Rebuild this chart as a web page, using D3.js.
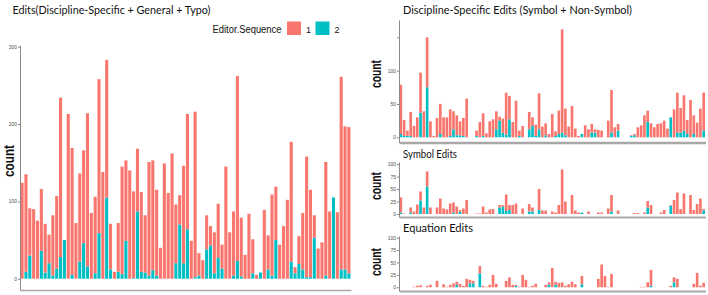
<!DOCTYPE html>
<html>
<head>
<meta charset="utf-8">
<script src="https://cdn.jsdelivr.net/npm/d3@7"></script>
<style>
body { margin: 0; background: #fff; }
svg text { font-family: "Liberation Sans", Arial, sans-serif; }
.title { font-family: Lato, "Open Sans", sans-serif; font-size: 11.5px; fill: #111; }
.count { font-size: 14px; font-weight: bold; fill: #111; }
.legend { font-size: 10px; fill: #111; }
.yAxis text { font-size: 5px; fill: #4d4d4d; }
.yAxis path, .yAxis line { stroke: #8a8a8a; }
.xAxis path { stroke: #a8a8a8; }
</style>
</head>
<body>
<div class="container"></div>
<script>
// left chart: all edits, editor sequence 1 (salmon) and 2 (teal), 86 documents
var allSeq1 = [124,126,61,90,75,80,63,37,78,94, 206,0,213,164,72,114,120,198,85,99,
  199,138,178,59,9,63,139,104,140,112, 81,103,74,147,142,111,40,149,111,162,
  76,38,126,149,49,214,29,24,44,25, 53,70,31,145,60,83,239,76,31,84,
  44,5,0,89,44,105,69,44,68,102, 155,8,36,73,156,113,29,39,47,147,
  87,0,86,249,185,189];
var allSeq2 = [0,9,30,0,0,36,8,20,4,13, 28,50,0,5,0,22,46,16,0,7,
  59,0,105,12,0,9,6,49,0,1, 87,9,8,4,11,4,0,0,0,0,
  20,70,20,64,0,2,4,0,38,43, 7,27,13,0,0,4,23,3,0,0,
  7,0,8,0,12,4,50,0,0,0, 22,7,19,12,2,2,53,0,0,4,
  0,105,0,12,12,7];

// right charts, 93 documents
var discSeq1 = [74,24,8,36,17,30,60,39,75,24, 2,29,45,30,30,40,27,30,21,27,
  58,0,0,8,23,34,6,24,27,27, 6,21,63,35,23,55,8,17,0,26,
  13,17,54,16,18,5,35,7,35,155, 40,16,47,13,2,0,18,12,13,5,
  11,10,0,25,64,15,10,0,0,0, 1,2,15,18,33,17,21,15,20,21,
  25,13,0,42,60,37,53,21,56,28, 22,43,57];
var discSeq2 = [5,2,2,2,0,0,37,0,75,0, 0,0,5,0,0,2,12,3,3,2,
  0,0,0,2,0,2,0,0,0,12, 25,7,4,27,0,0,2,0,0,12,
  17,2,12,0,3,0,0,2,5,7, 3,0,0,0,0,5,0,0,7,7,
  0,0,0,0,7,0,10,0,0,0, 2,3,0,0,0,23,0,0,0,0,
  0,0,30,0,7,7,10,5,0,5, 0,0,10];

var symSeq1 = [30,1,0,10,5,19,18,13,30,13, 0,13,31,11,9,21,20,15,3,11,
  28,0,0,1,1,15,3,9,10,0, 5,3,33,10,18,21,0,11,0,15,
  8,0,42,7,7,0,5,3,18,89, 25,0,38,7,3,0,0,5,0,0,
  3,3,0,11,33,0,7,0,0,0, 0,2,2,0,3,13,18,0,0,3,
  8,0,1,28,43,10,41,0,38,8, 20,31,3];
var symSeq2 = [3,0,0,3,0,0,27,0,55,0, 0,0,0,0,0,0,3,0,5,0,
  0,0,0,0,0,0,0,0,0,0, 13,15,6,8,0,0,0,0,0,5,
  5,0,8,0,0,0,0,0,0,0, 0,0,0,0,0,3,0,0,0,0,
  0,0,0,0,5,0,0,0,0,0, 0,0,0,0,0,13,0,0,0,0,
  0,0,17,0,0,0,0,0,0,0, 0,0,7];

var eqSeq1 = [0,0,0,0,1,3,4,0,3,5, 0,13,0,6,1,5,8,6,7,3,
  17,7,5,0,15,3,1,5,25,7, 0,0,13,20,5,2,1,25,15,1,
  3,7,0,0,5,5,39,6,9,10, 3,6,11,6,0,17,0,0,0,0,
  17,46,23,1,27,0,0,0,0,0, 0,0,0,1,1,10,32,0,0,0,
  0,0,3,10,17,0,0,0,0,7, 29,3,9];
var eqSeq2 = [0,0,0,0,0,0,0,0,0,0, 0,0,0,0,0,0,0,5,0,0,
  0,8,8,0,28,0,0,0,0,0, 0,0,0,0,0,3,0,0,0,0,
  0,0,0,0,0,5,0,5,0,0, 0,0,0,0,0,6,0,0,0,0,
  0,0,0,0,0,0,0,0,0,0, 0,0,0,0,0,0,3,0,0,0,
  0,0,0,10,0,0,0,0,0,0, 0,0,0];

var legendKeys = ['1', '2'];

const WIDTH = 708;
const HEIGHT = 295;
const COLORS = {s1: '#F8766D', s2: '#00BFC4'};

var svg;

var translate = function(x, y){
	return "translate("+x+","+y+")";
};

var drawPanel = function(p){
	var idx = d3.range(p.seq1.length);

	var xScale = d3.scaleBand()
		.domain(idx)
		.range([p.left, p.right])
		.paddingInner(0.2)
		.paddingOuter(0.15);

	var yScale = d3.scaleLinear()
		.domain(p.domain)
		.range([p.bottom, p.top]);

	var rows = idx.map(function(i){ return {i: i, s1: p.seq1[i], s2: p.seq2[i]}; });
	var layers = d3.stack().keys(['s2', 's1'])(rows);

	svg.append('g').selectAll('g').data(layers)
		.enter().append('g')
		.attr('fill', function(d){ return COLORS[d.key]; })
		.selectAll('rect')
		.data(function(d){ return d.filter(function(v){ return v[1] > v[0]; }); })
		.enter().append('rect')
		.attr('x', function(v){ return xScale(v.data.i); })
		.attr('width', xScale.bandwidth())
		.attr('y', function(v){ return yScale(v[1]); })
		.attr('height', function(v){ return yScale(v[0]) - yScale(v[1]); });

	var yAxis = d3.axisLeft(yScale)
		.tickValues(p.ticks)
		.tickSize(2)
		.tickSizeOuter(0)
		.tickPadding(1)
		.tickFormat(function(d){ return p.labels.indexOf(d) >= 0 ? d : ''; });

	svg.append('g')
		.attr('transform', translate(p.left, 0))
		.classed('yAxis', true)
		.call(yAxis);

	svg.append('g')
		.attr('transform', translate(0, p.bottom))
		.classed('xAxis', true)
		.call(d3.axisBottom(xScale).tickValues([]).tickSizeOuter(0))
		.select('path').attr('stroke-width', p.xWidth);

	svg.append('text')
		.classed('count', true)
		.attr('transform', translate(p.countX, p.countY) + ' rotate(-90)')
		.attr('text-anchor', 'middle')
		.attr('textLength', p.countLen)
		.attr('lengthAdjust', 'spacingAndGlyphs')
		.text('count');

	svg.append('text')
		.classed('title', true)
		.attr('x', p.titleX)
		.attr('y', p.titleY)
		.attr('textLength', p.titleLen)
		.attr('lengthAdjust', 'spacingAndGlyphs')
		.text(p.title);
};

var drawLegend = function(){
	var g = svg.append('g');
	g.append('text').classed('legend', true)
		.attr('x', 212.5).attr('y', 32.5)
		.attr('textLength', 69).attr('lengthAdjust', 'spacingAndGlyphs')
		.text('Editor.Sequence');
	var item = g.selectAll('g.item').data(legendKeys)
		.enter().append('g')
		.attr('transform', function(d, i){ return translate(287 + i * 28.5, 21.5); });
	item.append('rect')
		.attr('width', 14).attr('height', 13.5)
		.attr('fill', function(d){ return d === '1' ? COLORS.s1 : COLORS.s2; });
	item.append('text').classed('legend', true)
		.attr('x', 19).attr('y', 11)
		.style('font-size', '9px')
		.text(function(d){ return d; });
};

window.onload = function(){
	svg = d3.select('.container').append('svg')
		.attr('width', WIDTH)
		.attr('height', HEIGHT);

	drawPanel({seq1: allSeq1, seq2: allSeq2, left: 20, right: 351, top: 45, bottom: 290,
		domain: [-14.6, 302.2], ticks: [0, 100, 200, 300], labels: [0, 100, 200, 300], xWidth: 1.5,
		countX: 13.5, countY: 161, countLen: 32,
		title: 'Edits(Discipline-Specific + General + Typo)', titleX: 12.5, titleY: 13.5, titleLen: 198});

	drawPanel({seq1: discSeq1, seq2: discSeq2, left: 399, right: 705.5, top: 20, bottom: 142.5,
		domain: [-7.8, 176], ticks: [0, 50, 100, 150], labels: [0, 50, 100], xWidth: 2.5,
		countX: 380.5, countY: 74, countLen: 28,
		title: 'Discipline-Specific Edits (Symbol + Non-Symbol)', titleX: 403, titleY: 13.5, titleLen: 229});

	drawPanel({seq1: symSeq1, seq2: symSeq2, left: 399, right: 705.5, top: 162, bottom: 217,
		domain: [-6, 104], ticks: [0, 25, 50, 75, 100], labels: [0, 25, 50, 75, 100], xWidth: 2,
		countX: 381, countY: 186, countLen: 28,
		title: 'Symbol Edits', titleX: 403, titleY: 157.5, titleLen: 54});

	drawPanel({seq1: eqSeq1, seq2: eqSeq2, left: 399, right: 705.5, top: 236, bottom: 291,
		domain: [-7.5, 103.4], ticks: [0, 25, 50, 75, 100], labels: [0, 25, 50, 75, 100], xWidth: 2,
		countX: 381, countY: 262, countLen: 28,
		title: 'Equation Edits', titleX: 403, titleY: 232, titleLen: 70});

	drawLegend();
};
</script>
</body>
</html>
